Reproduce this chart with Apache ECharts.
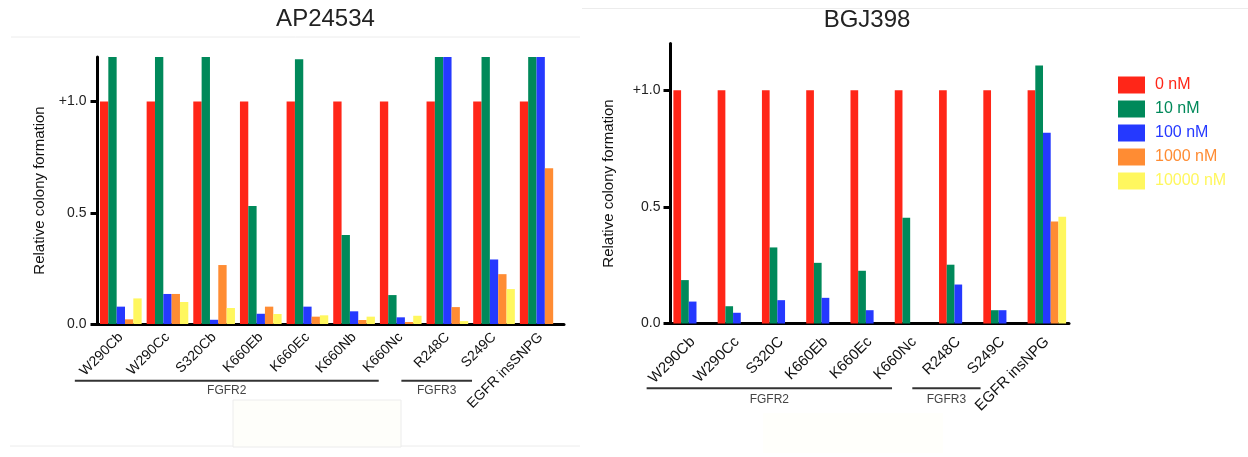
<!DOCTYPE html>
<html>
<head>
<meta charset="utf-8">
<script src="https://cdn.jsdelivr.net/npm/echarts@6/dist/echarts.min.js"></script>
<style>
html,body{margin:0;padding:0;background:#fff;}
#main{width:1248px;height:457px;}
</style>
</head>
<body>
<div id="main"></div>
<script>
// AP24534 panel
const leftCategories=['W290Cb','W290Cc','S320Cb','K660Eb','K660Ec','K660Nb','K660Nc','R248C','S249C','EGFR insSNPG'];
const left0=[1,1,1,1,1,1,1,1,1,1];
const left10=[1.25,1.25,1.25,0.53,1.19,0.40,0.13,1.25,1.25,1.25];
const left100=[0.078,0.135,0.019,0.046,0.078,0.057,0.03,1.25,0.29,1.25];
const left1000=[0.021,0.135,0.265,0.078,0.033,0.018,0.009,0.076,0.224,0.70];
const left10000=[0.115,0.099,0.072,0.045,0.039,0.033,0.037,0.013,0.157,0];

// BGJ398 panel
const rightCategories=['W290Cb','W290Cc','S320C','K660Eb','K660Ec','K660Nc','R248C','S249C','EGFR insNPG'];
const right0=[1,1,1,1,1,1,1,1,1];
const right10=[0.186,0.074,0.326,0.26,0.226,0.453,0.252,0.057,1.106];
const right100=[0.094,0.046,0.1,0.11,0.057,0,0.167,0.057,0.818];
const right1000=[0,0,0,0,0,0,0,0,0.437];
const right10000=[0,0,0,0,0,0,0,0,0.458];

const doseNames=['0 nM','10 nM','100 nM','1000 nM','10000 nM'];
const doseColors=['#ff2618','#00895a','#2539ff','#ff8c33','#fff75e'];
const yTickValues=[0,0.5,1];
const yTickLabels=['0.0','0.5','+1.0'];

// gene groups under the x labels: [name, first category, last category]
const leftGroups=[['FGFR2','W290Cb','K660Nc'],['FGFR3','R248C','S249C']];
const rightGroups=[['FGFR2','W290Cb','K660Nc'],['FGFR3','R248C','S249C']];

const font='Liberation Sans, Arial, sans-serif';

function yAxisOpt(gridIndex,margin,nameGap){
    return {
        type:'value',gridIndex:gridIndex,min:0,max:1.2,interval:0.5,
        name:'Relative colony formation',nameLocation:'middle',nameGap:nameGap,
        nameTextStyle:{fontSize:15,color:'#111',fontFamily:font},
        axisLine:{show:true,lineStyle:{color:'#000',width:3}},
        axisTick:{show:true,length:7,lineStyle:{color:'#000',width:3},customValues:yTickValues},
        axisLabel:{fontSize:14,color:'#222',fontFamily:font,margin:margin,customValues:yTickValues,
            formatter:function(v){
                let i=yTickValues.indexOf(v);
                return i>=0?yTickLabels[i]:'';
            }},
        splitLine:{show:false}
    };
}
function xAxisOpt(gridIndex,cats,fontSize,margin){
    return {
        type:'category',gridIndex:gridIndex,data:cats,
        axisLine:{lineStyle:{color:'#000',width:3}},
        axisTick:{alignWithLabel:true,length:7,lineStyle:{color:'#000',width:3}},
        axisLabel:{interval:0,rotate:45,fontSize:fontSize,color:'#111',fontFamily:font,margin:margin},
        splitLine:{show:false}
    };
}

let leftData=[left0,left10,left100,left1000,left10000];
let rightData=[right0,right10,right100,right1000,right10000];
let series=[];
doseNames.forEach(function(name,i){
    series.push({name:name,type:'bar',xAxisIndex:0,yAxisIndex:0,data:leftData[i],
        barGap:0,barCategoryGap:'10.7%',clip:true,itemStyle:{color:doseColors[i]}});
});
doseNames.forEach(function(name,i){
    series.push({name:name,type:'bar',xAxisIndex:1,yAxisIndex:1,data:rightData[i],
        barGap:0,barCategoryGap:'13%',clip:true,itemStyle:{color:doseColors[i]}});
});

let option={
    animation:false,
    backgroundColor:'#fff',
    title:[
        {text:'AP24534',left:325.5,top:7,padding:0,textAlign:'center',textStyle:{fontSize:24,fontWeight:'normal',color:'#222',fontFamily:font}},
        {text:'BGJ398',left:867,top:8,padding:0,textAlign:'center',textStyle:{fontSize:24,fontWeight:'normal',color:'#222',fontFamily:font}}
    ],
    legend:{
        orient:'vertical',left:1118,top:76.5,padding:0,itemWidth:27,itemHeight:17,itemGap:7,icon:'rect',
        textStyle:{fontSize:16,fontFamily:font,padding:[0,0,0,5]},
        data:doseNames.map(function(n,i){return {name:n,textStyle:{color:doseColors[i]}};})
    },
    grid:[
        {left:97.5,right:684,top:57,bottom:133},
        {left:670.5,right:179,top:43.5,bottom:133.5}
    ],
    xAxis:[xAxisOpt(0,leftCategories,14,11),xAxisOpt(1,rightCategories,15,16)],
    yAxis:[yAxisOpt(0,11,50),yAxisOpt(1,10,54)],
    series:series
};

let myChart=echarts.init(document.getElementById('main'));
myChart.setOption(option);

// page decorations and gene group brackets
function groupGraphics(xAxisIndex,groups,lineY,textY){
    let out=[];
    for(const g of groups){
        let x1=myChart.convertToPixel({xAxisIndex:xAxisIndex},g[1])-46;
        let x2=myChart.convertToPixel({xAxisIndex:xAxisIndex},g[2])-22;
        out.push({type:'line',shape:{x1:x1,y1:lineY,x2:x2,y2:lineY},style:{stroke:'#333',lineWidth:2}});
        out.push({type:'text',x:(x1+x2)/2,y:textY,style:{text:g[0],fontSize:12,fill:'#444',fontFamily:font,align:'center',verticalAlign:'middle'}});
    }
    return out;
}
let deco=[
    {type:'line',shape:{x1:11,y1:37,x2:580,y2:37},style:{stroke:'#ececec',lineWidth:1},z:-1},
    {type:'line',shape:{x1:582,y1:8.5,x2:1248,y2:8.5},style:{stroke:'#ececec',lineWidth:1},z:-1},
    {type:'line',shape:{x1:10,y1:446,x2:580,y2:446},style:{stroke:'#ececec',lineWidth:1},z:-1},
    {type:'rect',shape:{x:233,y:400,width:168,height:47},style:{fill:'#fefefa',stroke:'#ececec',lineWidth:1},z:-1},
    {type:'rect',shape:{x:763,y:413,width:180,height:40},style:{fill:'#fffffb'},z:-1}
];
myChart.setOption({
    graphic:deco.concat(groupGraphics(0,leftGroups,380.7,391),groupGraphics(1,rightGroups,388.3,400))
});
</script>
</body>
</html>
